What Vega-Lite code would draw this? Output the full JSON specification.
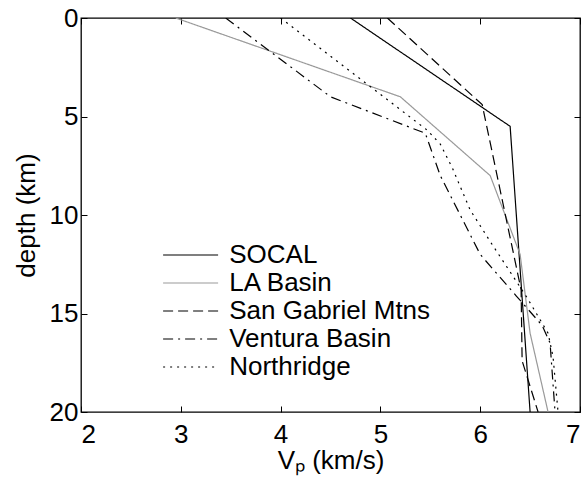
{
  "$schema": "https://vega.github.io/schema/vega-lite/v6.json",
  "width": 499,
  "height": 394,
  "autosize": "none",
  "padding": {"left": 81, "top": 18, "right": 4, "bottom": 69},
  "config": {
    "font": "Liberation Sans",
    "view": {"stroke": "black", "strokeWidth": 1.3},
    "axis": {
      "domain": false,
      "grid": false,
      "ticks": true,
      "tickSize": -6,
      "tickColor": "black",
      "tickWidth": 1,
      "labelFont": "Liberation Sans",
      "labelFontSize": 26,
      "labelColor": "black",
      "titleFont": "Liberation Sans",
      "titleFontSize": 26,
      "titleFontWeight": "normal",
      "titleColor": "black"
    }
  },
  "data": {
    "values": [
      {"model": "SOCAL", "i": 0, "v": 4.7, "depth": 0},
      {"model": "SOCAL", "i": 1, "v": 6.3, "depth": 5.5},
      {"model": "SOCAL", "i": 2, "v": 6.5, "depth": 20},
      {"model": "LA Basin", "i": 0, "v": 2.95, "depth": 0},
      {"model": "LA Basin", "i": 1, "v": 5.2, "depth": 4},
      {"model": "LA Basin", "i": 2, "v": 6.1, "depth": 8},
      {"model": "LA Basin", "i": 3, "v": 6.4, "depth": 12},
      {"model": "LA Basin", "i": 4, "v": 6.5, "depth": 16},
      {"model": "LA Basin", "i": 5, "v": 6.68, "depth": 20},
      {"model": "San Gabriel Mtns", "i": 0, "v": 5.07, "depth": 0},
      {"model": "San Gabriel Mtns", "i": 1, "v": 6.02, "depth": 4.4},
      {"model": "San Gabriel Mtns", "i": 2, "v": 6.41, "depth": 13.8},
      {"model": "San Gabriel Mtns", "i": 3, "v": 6.42, "depth": 17.4},
      {"model": "San Gabriel Mtns", "i": 4, "v": 6.58, "depth": 20},
      {"model": "Ventura Basin", "i": 0, "v": 3.45, "depth": 0},
      {"model": "Ventura Basin", "i": 1, "v": 4.5, "depth": 4},
      {"model": "Ventura Basin", "i": 2, "v": 5.45, "depth": 5.85},
      {"model": "Ventura Basin", "i": 3, "v": 5.6, "depth": 8},
      {"model": "Ventura Basin", "i": 4, "v": 5.72, "depth": 9.2},
      {"model": "Ventura Basin", "i": 5, "v": 6.0, "depth": 12},
      {"model": "Ventura Basin", "i": 6, "v": 6.36, "depth": 14.1},
      {"model": "Ventura Basin", "i": 7, "v": 6.62, "depth": 15.6},
      {"model": "Ventura Basin", "i": 8, "v": 6.7, "depth": 16.5},
      {"model": "Ventura Basin", "i": 9, "v": 6.75, "depth": 20},
      {"model": "Northridge", "i": 0, "v": 4.0, "depth": 0},
      {"model": "Northridge", "i": 1, "v": 5.47, "depth": 5.7},
      {"model": "Northridge", "i": 2, "v": 5.6, "depth": 6.4},
      {"model": "Northridge", "i": 3, "v": 5.72, "depth": 7.6},
      {"model": "Northridge", "i": 4, "v": 5.9, "depth": 9.75},
      {"model": "Northridge", "i": 5, "v": 6.12, "depth": 11.5},
      {"model": "Northridge", "i": 6, "v": 6.47, "depth": 14.2},
      {"model": "Northridge", "i": 7, "v": 6.68, "depth": 16},
      {"model": "Northridge", "i": 8, "v": 6.73, "depth": 17.2},
      {"model": "Northridge", "i": 9, "v": 6.78, "depth": 20}
    ]
  },
  "layer": [
    {
      "mark": {"type": "line", "strokeWidth": 1.2, "clip": true},
      "encoding": {
        "x": {
          "field": "v", "type": "quantitative",
          "scale": {"domain": [2, 7], "nice": false, "zero": false},
          "axis": {"orient": "bottom", "values": [2, 3, 4, 5, 6, 7], "title": "Vₚ (km/s)", "labelPadding": 15, "titlePadding": 0}
        },
        "y": {
          "field": "depth", "type": "quantitative",
          "scale": {"domain": [0, 20], "reverse": true, "nice": false, "zero": false},
          "axis": {"orient": "left", "values": [0, 5, 10, 15, 20], "title": "depth (km)", "labelPadding": 9, "titlePadding": 10}
        },
        "order": {"field": "i", "type": "quantitative"},
        "color": {
          "field": "model", "type": "nominal",
          "scale": {
            "domain": ["SOCAL", "LA Basin", "San Gabriel Mtns", "Ventura Basin", "Northridge"],
            "range": ["#000000", "#999999", "#000000", "#000000", "#000000"]
          },
          "legend": {
            "title": null, "orient": "none", "legendX": 96.6, "legendY": 224,
            "symbolType": "M-4,0H4", "symbolSize": 189, "symbolStrokeWidth": 1.2,
            "labelFontSize": 26, "labelFont": "Liberation Sans", "labelColor": "black",
            "labelOffset": 25.6, "labelLimit": 0, "rowPadding": 2, "padding": 0
          }
        },
        "strokeDash": {
          "field": "model", "type": "nominal",
          "scale": {
            "domain": ["SOCAL", "LA Basin", "San Gabriel Mtns", "Ventura Basin", "Northridge"],
            "range": [[1, 0], [1, 0], [10, 5], [10, 5, 2, 5], [2, 5]]
          },
          "legend": {
            "title": null, "orient": "none", "legendX": 96.6, "legendY": 224,
            "symbolType": "M-4,0H4", "symbolSize": 189, "symbolStrokeWidth": 1.2,
            "labelFontSize": 26, "labelFont": "Liberation Sans", "labelColor": "black",
            "labelOffset": 25.6, "labelLimit": 0, "rowPadding": 2, "padding": 0
          }
        }
      }
    },
    {
      "mark": {"type": "line", "opacity": 0},
      "encoding": {
        "x": {
          "field": "v", "type": "quantitative",
          "scale": {"domain": [2, 7], "nice": false, "zero": false},
          "axis": {"orient": "top", "values": [2, 3, 4, 5, 6, 7], "labels": false, "title": null}
        },
        "y": {
          "field": "depth", "type": "quantitative",
          "scale": {"domain": [0, 20], "reverse": true, "nice": false, "zero": false},
          "axis": {"orient": "right", "values": [0, 5, 10, 15, 20], "labels": false, "title": null}
        },
        "detail": {"field": "model"}
      }
    }
  ],
  "resolve": {"axis": {"x": "independent", "y": "independent"}}
}
